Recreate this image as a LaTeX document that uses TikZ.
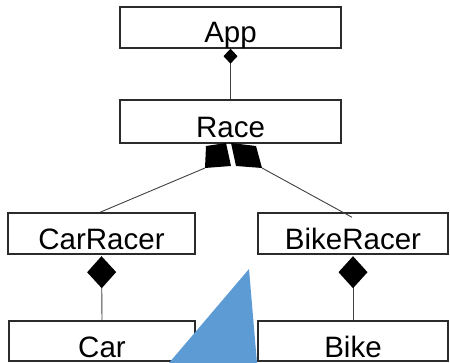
\documentclass[tikz,border=0pt]{standalone}
\usepackage{fontspec}
\setmainfont{Liberation Sans}
\usetikzlibrary{arrows.meta,calc}
\definecolor{boxline}{HTML}{2B2B2B}
\definecolor{conline}{HTML}{404040}
\definecolor{triblue}{HTML}{5D9BD5}
\tikzset{
  cls/.style={draw=boxline, line width=1.4pt, fill=white, inner sep=0pt, anchor=base,
    font=\fontsize{29.5}{30}\selectfont, align=center},
  conn/.style={draw=conline, line width=0.9pt},
  compo/.style={conn, -{Diamond[length=#1, width=#1, fill=black, line width=0pt]}},
  blob/.style={fill=black, draw=none}
}
\begin{document}
\begin{tikzpicture}[x=1pt,y=-1pt]
\useasboundingbox (0,0) rectangle (450,363);
% class boxes (anchor=base placed at text baseline)
\node[cls, text width=221pt, text height=36pt, text depth=5pt] (App) at (230.5,43) {App};
\node[cls, text width=221pt, text height=38pt, text depth=5pt] (Race) at (230.5,138) {Race};
\node[cls, text width=187pt, text height=37pt, text depth=4pt] (CarRacer) at (101.5,250) {CarRacer};
\node[cls, text width=190pt, text height=37pt, text depth=4pt] (BikeRacer) at (353,250) {BikeRacer};
\node[cls, text width=186pt, text height=37pt, text depth=3pt] (Car) at (102,358) {Car};
\node[cls, text width=190pt, text height=37pt, text depth=3pt] (Bike) at (353,358) {Bike};
% composition App - Race
\draw[conn, -{Diamond[length=15pt, width=14pt, fill=black, line width=0pt]}] (Race.north) -- (App.south);
% composition CarRacer - Car, BikeRacer - Bike
\draw[conn, -{Diamond[length=32pt, width=29pt, fill=black, line width=0pt]}, shorten >=1.5pt] (Car.north) -- (CarRacer.south);
\draw[conn, -{Diamond[length=32pt, width=29pt, fill=black, line width=0pt]}, shorten >=1.5pt] (Bike.north) -- (BikeRacer.south);
% distorted diamond heads under Race
\coordinate (LH) at (205,168);
\coordinate (RH) at (262,168);
\fill[blob] (206,146) -- (226,143) -- (231,166) -- (LH) -- cycle;
\fill[blob] (231,143) -- (256,146) -- (RH) -- (236,166) -- cycle;
\draw[conn] (LH) -- ($(CarRacer.north)+(-1.5,0)$);
\draw[conn] (RH) -- ($(BikeRacer.north)+(-1,5)$);
% blue triangle overlay
\fill[triblue] (249,269) -- (257,363) -- (169,363) -- cycle;
\end{tikzpicture}
\end{document}
